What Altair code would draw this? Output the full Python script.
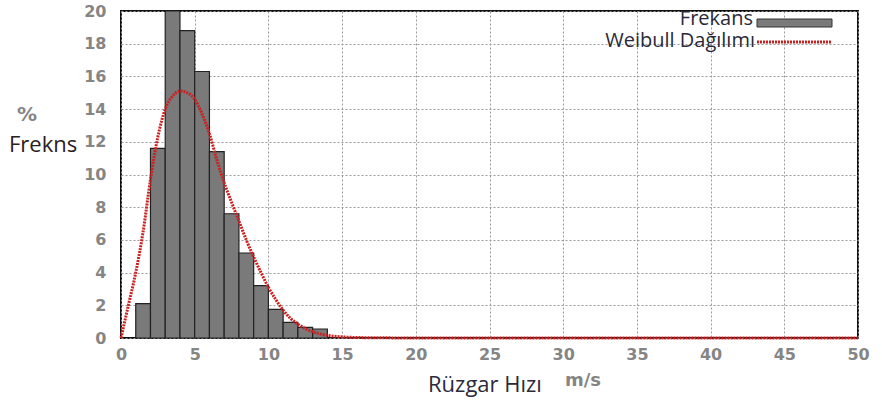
import altair as alt
import pandas as pd

# Histogram bins (m/s) and frequencies (%)
bin_start = [1, 2, 3, 4, 5, 6, 7, 8, 9, 10, 11, 12, 13]
bin_end = [2, 3, 4, 5, 6, 7, 8, 9, 10, 11, 12, 13, 14]
freq = [2.1, 11.6, 20.0, 18.8, 16.3, 11.4, 7.6, 5.2, 3.2, 1.75, 0.95, 0.65, 0.55]

# Weibull curve
w_x = [0, 0.5, 1, 1.5, 2, 2.5, 3, 3.5, 4, 4.5, 5, 5.5, 6, 6.5, 7, 7.5, 8, 8.5,
       9, 9.5, 10, 10.5, 11, 11.5, 12, 12.5, 13, 13.5, 14, 15, 16, 18, 20, 25,
       30, 35, 40, 45, 50]
w_y = [0, 2.0, 4.0, 6.5, 9.7, 12.3, 14.0, 14.8, 15.1, 15.0, 14.6, 13.7, 12.5,
       10.9, 9.5, 8.3, 7.15, 6.0, 4.95, 4.0, 3.1, 2.35, 1.7, 1.2, 0.85, 0.58,
       0.38, 0.25, 0.16, 0.07, 0.03, 0.01, 0, 0, 0, 0, 0, 0, 0]

x_ticks = [0, 5, 10, 15, 20, 25, 30, 35, 40, 45, 50]
y_ticks = [0, 2, 4, 6, 8, 10, 12, 14, 16, 18, 20]

legend_labels = ["Frekans", "Weibull Dağılımı"]
y_title = ["%", "Frekns"]
x_title = ["Rüzgar Hızı", "m/s"]

bars_df = pd.DataFrame({"start": bin_start, "end": bin_end, "freq": freq})
curve_df = pd.DataFrame({"x": w_x, "y": w_y})

GRAY_LBL = "#858585"
TXT = "#2a2a3a"

xscale = alt.Scale(domain=[0, 50], nice=False)
yscale = alt.Scale(domain=[0, 20], nice=False)

common = dict(title=None, grid=True, gridDash=[2, 2], gridColor="#9a9a9a",
              ticks=False, domain=False, labelFont="DejaVu Sans",
              labelFontWeight="bold", labelFontSize=16, labelColor=GRAY_LBL,
              labelOverlap=False, labelFlush=False)
xaxis = alt.Axis(values=x_ticks, labelPadding=8, **common)
yaxis = alt.Axis(values=y_ticks, labelPadding=15, **common)

bars = alt.Chart(bars_df).mark_bar(
    color="#7a7a7a", stroke="#222222", strokeWidth=1.2
).encode(
    x=alt.X("start:Q", scale=xscale, axis=xaxis),
    x2="end:Q",
    y=alt.Y("freq:Q", scale=yscale, axis=yaxis),
    y2=alt.datum(0),
)

curve = alt.Chart(curve_df).mark_line(
    color="#cc2020", strokeWidth=3, strokeDash=[2, 1], interpolate="monotone"
).encode(
    x=alt.X("x:Q", scale=xscale, axis=xaxis),
    y=alt.Y("y:Q", scale=yscale, axis=yaxis),
)

one = pd.DataFrame({"a": [0]})

def txt(text, x, y, size, color, font, weight="normal", align="left",
        baseline="alphabetic"):
    return alt.Chart(one).mark_text(
        text=text, font=font, fontSize=size, color=color, fontWeight=weight,
        align=align, baseline=baseline
    ).encode(x=alt.value(x), y=alt.value(y))

leg1 = txt(legend_labels[0], 632, 14, 20, TXT, "Open Sans", align="right")
leg2 = txt(legend_labels[1], 634, 36, 20, TXT, "Open Sans", align="right")
leg_bar = alt.Chart(one).mark_rect(
    color="#7a7a7a", stroke="#333333", strokeWidth=1
).encode(x=alt.value(636), x2=alt.value(711), y=alt.value(8), y2=alt.value(16))
leg_line = alt.Chart(one).mark_rule(
    color="#cc2020", strokeWidth=3, strokeDash=[2, 1]
).encode(x=alt.value(636), x2=alt.value(711), y=alt.value(31))

yt1 = txt(y_title[0], -94, 104, 20, GRAY_LBL, "DejaVu Sans", "bold",
          align="center", baseline="middle")
yt2 = txt(y_title[1], -112, 141, 22, "#2a2020", "Open Sans")
xt1 = txt(x_title[0], 307, 381, 22, TXT, "Open Sans")
xt2 = txt(x_title[1], 444, 375, 18, GRAY_LBL, "DejaVu Sans", "bold")

chart = alt.layer(
    bars, curve, leg_bar, leg_line, leg1, leg2, yt1, yt2, xt1, xt2
).properties(
    width=737, height=327,
    autosize=alt.AutoSizeParams(type="none"),
    padding={"left": 121, "top": 11, "right": 24, "bottom": 63},
    background="white",
).configure_view(
    stroke="#111111", strokeWidth=2
).configure_axis(
    labelOverlap=False
)

chart.save("out.html", embed_options={"renderer": "svg", "actions": False})
